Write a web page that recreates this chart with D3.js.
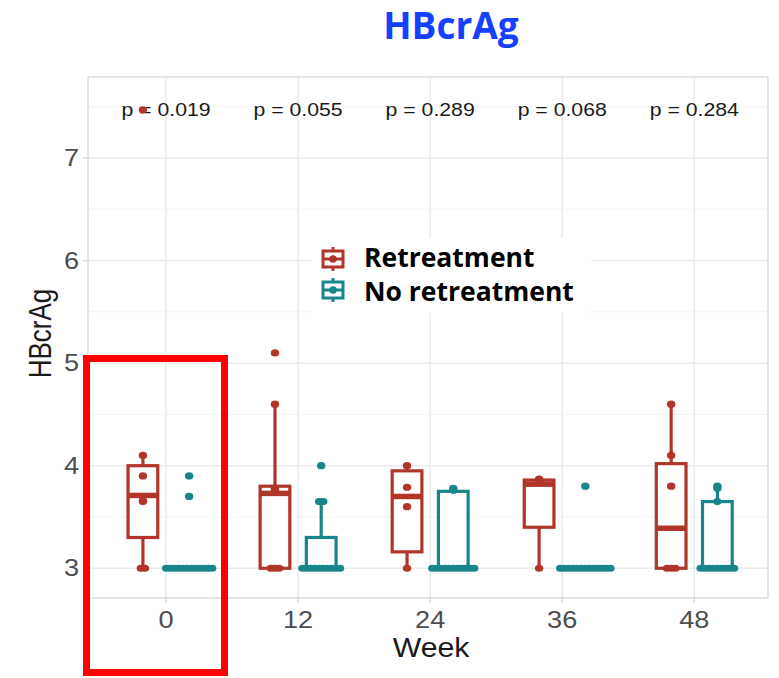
<!DOCTYPE html>
<html>
<head>
<meta charset="utf-8">
<script src="https://cdn.jsdelivr.net/npm/d3@7"></script>
<style>
  body { margin: 0; background: #fff; }
  svg { display: block; }
</style>
</head>
<body>
<svg id="chart" width="779" height="678"></svg>
<script>
// weeks and p-values
const weeks = [0, 12, 24, 36, 48];
const pLabels = ['p = 0.019', 'p = 0.055', 'p = 0.289', 'p = 0.068', 'p = 0.284'];
const groups = ['Retreatment', 'No retreatment'];
const yTicks = [3, 4, 5, 6, 7];

// box stats per week: [lower whisker, q1, median, q3, upper whisker]
const retreatStats = [
  [3.0, 3.30, 3.71, 4.00, 4.10],
  [3.0, 3.00, 3.73, 3.80, 4.60],
  [3.0, 3.16, 3.70, 3.95, 4.00],
  [3.0, 3.40, 3.82, 3.86, 3.87],
  [3.0, 3.00, 3.39, 4.02, 4.60]
];
const noRetreatStats = [
  [3.0, 3.0, 3.0, 3.00, 3.00],
  [3.0, 3.0, 3.0, 3.30, 3.65],
  [3.0, 3.0, 3.0, 3.75, 3.78],
  [3.0, 3.0, 3.0, 3.00, 3.00],
  [3.0, 3.0, 3.0, 3.65, 3.80]
];

// individual values per week
const retreatPoints = [
  [7.47, 4.10, 3.90, 3.66, 3.65, 3.0, 3.0],
  [5.10, 4.60, 3.78, 3.76, 3.75, 3.74, 3.0, 3.0, 3.0],
  [4.00, 3.79, 3.60, 3.0],
  [3.87, 3.85, 3.84, 3.0],
  [4.60, 4.10, 3.80, 3.0, 3.0, 3.0]
];
const noRetreatPoints = [
  [3.90, 3.70, 3, 3, 3, 3, 3, 3, 3, 3, 3, 3, 3, 3],
  [4.00, 3.65, 3.65, 3, 3, 3, 3, 3, 3, 3, 3, 3, 3],
  [3.78, 3.76, 3, 3, 3, 3, 3, 3, 3, 3, 3, 3, 3],
  [3.80, 3, 3, 3, 3, 3, 3, 3, 3, 3, 3, 3, 3, 3],
  [3.80, 3.78, 3.65, 3, 3, 3, 3, 3, 3, 3, 3, 3]
];

const colors = {'Retreatment': '#b2352a', 'No retreatment': '#17858a'};

const svg = d3.select('#chart');
const panel = {left: 88, right: 768, top: 77, bottom: 598};
const sx = 1.18; // source picture is stretched horizontally

const x = d3.scaleLinear().domain([-7.09, 54.7]).range([panel.left, panel.right]);
const y = d3.scaleLinear().domain([2.71, 7.79]).range([panel.bottom, panel.top]);

const dodge = 2.1;
const boxW = 2.7;
const tieStep = 0.38;

// stretched text helper
function sText(g, px, py, txt, opts) {
  return g.append('text')
    .attr('transform', 'translate(' + px + ',' + py + ') scale(' + (opts.sx || sx) + ',1)')
    .attr('text-anchor', opts.anchor || 'middle')
    .attr('font-family', opts.family || 'Liberation Sans, Arial, sans-serif')
    .attr('font-size', opts.size)
    .attr('font-weight', opts.weight || 'normal')
    .attr('fill', opts.fill || '#4d4d4d')
    .text(txt);
}

// grid
const grid = svg.append('g');
const minor = d3.range(2.5, 8, 1).filter(v => v > 2.71 && v < 7.79);
grid.selectAll('.minor').data(minor).enter().append('line')
  .attr('x1', panel.left).attr('x2', panel.right)
  .attr('y1', d => y(d)).attr('y2', d => y(d))
  .attr('stroke', '#f4f4f4').attr('stroke-width', 1);
grid.selectAll('.hmaj').data(yTicks).enter().append('line')
  .attr('x1', panel.left).attr('x2', panel.right)
  .attr('y1', d => y(d)).attr('y2', d => y(d))
  .attr('stroke', '#ebebeb').attr('stroke-width', 1.5);
grid.selectAll('.vmaj').data(weeks).enter().append('line')
  .attr('y1', panel.top).attr('y2', panel.bottom)
  .attr('x1', d => x(d)).attr('x2', d => x(d))
  .attr('stroke', '#ebebeb').attr('stroke-width', 1.5);

svg.append('rect')
  .attr('x', panel.left).attr('y', panel.top)
  .attr('width', panel.right - panel.left).attr('height', panel.bottom - panel.top)
  .attr('fill', 'none').attr('stroke', '#d4d4d4').attr('stroke-width', 1.2);

// axes
const axG = svg.append('g');
yTicks.forEach(t => {
  axG.append('line').attr('x1', panel.left - 5).attr('x2', panel.left)
    .attr('y1', y(t)).attr('y2', y(t)).attr('stroke', '#d4d4d4').attr('stroke-width', 1.2);
  sText(axG, panel.left - 9, y(t) + 8, String(t), {size: 23, anchor: 'end'});
});
weeks.forEach(w => {
  axG.append('line').attr('y1', panel.bottom).attr('y2', panel.bottom + 5)
    .attr('x1', x(w)).attr('x2', x(w)).attr('stroke', '#d4d4d4').attr('stroke-width', 1.2);
  sText(axG, x(w), panel.bottom + 30, String(w), {size: 23});
});
sText(svg, (panel.left + panel.right) / 2 + 3, 657, 'Week', {size: 28, fill: '#1a1a1a', sx: 1.08});
svg.append('text')
  .attr('transform', 'translate(51,' + ((panel.top + panel.bottom) / 2 - 4) + ') scale(' + sx + ',1) rotate(-90)')
  .attr('text-anchor', 'middle')
  .attr('font-family', 'Liberation Sans, Arial, sans-serif')
  .attr('font-size', 26)
  .attr('fill', '#1a1a1a')
  .text('HBcrAg');

// p-values
weeks.forEach((w, i) => {
  sText(svg, x(w), y(7.47) + 6, pLabels[i], {size: 18, fill: '#1a1a1a'});
});

// boxes
function drawGroup(stats, pts, group, off) {
  const col = colors[group];
  const g = svg.append('g');
  stats.forEach((s, i) => {
    const cx = weeks[i] + off;
    const x0 = x(cx - boxW / 2), x1 = x(cx + boxW / 2);
    // whiskers
    g.append('line').attr('x1', x(cx)).attr('x2', x(cx))
      .attr('y1', y(s[3])).attr('y2', y(s[4])).attr('stroke', col).attr('stroke-width', 3.2);
    g.append('line').attr('x1', x(cx)).attr('x2', x(cx))
      .attr('y1', y(s[1])).attr('y2', y(s[0])).attr('stroke', col).attr('stroke-width', 3.2);
    g.append('rect').attr('x', x0).attr('y', y(s[3]))
      .attr('width', x1 - x0).attr('height', Math.max(0.1, y(s[1]) - y(s[3])))
      .attr('fill', '#fff').attr('stroke', col).attr('stroke-width', 3.2);
    g.append('line').attr('x1', x0).attr('x2', x1)
      .attr('y1', y(s[2])).attr('y2', y(s[2])).attr('stroke', col).attr('stroke-width', 5.5);

    // points: tied values spread side by side
    const counts = d3.rollup(pts[i], v => v.length, d => d);
    const seen = new Map();
    pts[i].forEach(v => {
      const k = counts.get(v);
      const j = seen.get(v) || 0;
      seen.set(v, j + 1);
      const px = cx + (j - (k - 1) / 2) * tieStep;
      g.append('ellipse').attr('cx', x(px)).attr('cy', y(v))
        .attr('rx', 4.2).attr('ry', 3.6).attr('fill', col);
    });
  });
}
drawGroup(retreatStats, retreatPoints, groups[0], -dodge);
drawGroup(noRetreatStats, noRetreatPoints, groups[1], dodge);

// legend
const lg = svg.append('g');
lg.append('rect').attr('x', 311).attr('y', 238).attr('width', 280).attr('height', 75).attr('fill', '#fff');
groups.forEach((gname, i) => {
  const cy = 259 + i * 31;
  const col = colors[gname];
  lg.append('line').attr('x1', 333).attr('x2', 333).attr('y1', cy - 12).attr('y2', cy + 12)
    .attr('stroke', col).attr('stroke-width', 3);
  lg.append('rect').attr('x', 323).attr('y', cy - 8).attr('width', 20).attr('height', 16)
    .attr('fill', '#fff').attr('stroke', col).attr('stroke-width', 3);
  lg.append('line').attr('x1', 323).attr('x2', 343).attr('y1', cy).attr('y2', cy)
    .attr('stroke', col).attr('stroke-width', 3);
  lg.append('circle').attr('cx', 333).attr('cy', cy).attr('r', 3.8).attr('fill', col);
  lg.append('text').attr('x', 364).attr('y', cy + 8 + i * 3)
    .attr('font-family', 'Open Sans, sans-serif').attr('font-weight', 'bold')
    .attr('font-size', 26.5).attr('fill', '#000').text(gname);
});

// title
svg.append('text').attr('x', 451).attr('y', 39).attr('text-anchor', 'middle')
  .attr('font-family', 'Open Sans, sans-serif').attr('font-weight', 'bold')
  .attr('font-size', 37).attr('fill', '#1440ff').text('HBcrAg');

// highlight annotation
svg.append('rect').attr('x', 86.5).attr('y', 358.5).attr('width', 138).attr('height', 314)
  .attr('fill', 'none').attr('stroke', '#ff0000').attr('stroke-width', 7);
</script>
</body>
</html>
